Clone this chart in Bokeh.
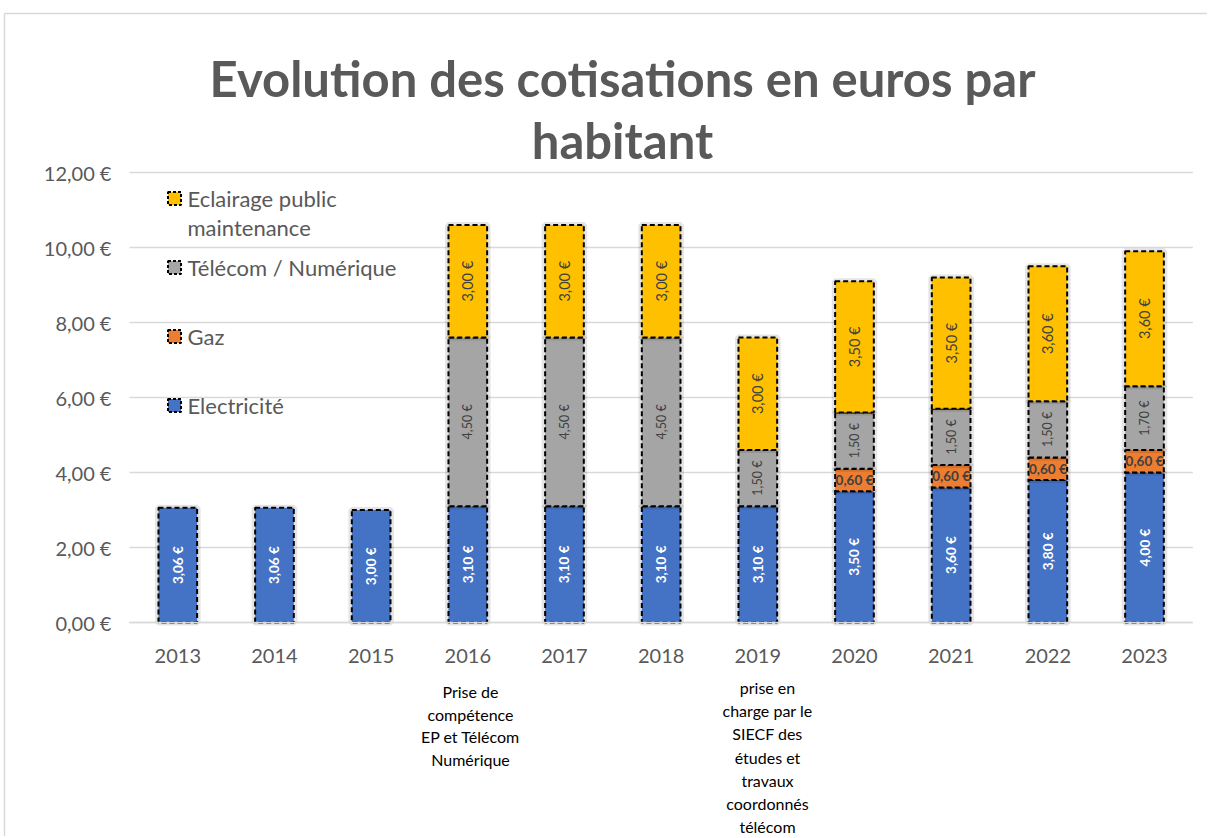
import math
from bokeh.plotting import figure
from bokeh.models import Range1d, FixedTicker, Label, ColumnDataSource
from bokeh.core.properties import value
from bokeh.embed import file_html
from bokeh.resources import INLINE

# ---------------- data ----------------
years = ["2013", "2014", "2015", "2016", "2017", "2018", "2019", "2020", "2021", "2022", "2023"]
series_names = ["Electricité", "Gaz", "Télécom / Numérique", "Eclairage public\nmaintenance"]
electricite = [3.06, 3.06, 3.00, 3.10, 3.10, 3.10, 3.10, 3.50, 3.60, 3.80, 4.00]
gaz = [0, 0, 0, 0, 0, 0, 0, 0.60, 0.60, 0.60, 0.60]
telecom = [0, 0, 0, 4.50, 4.50, 4.50, 1.50, 1.50, 1.50, 1.50, 1.70]
eclairage = [0, 0, 0, 3.00, 3.00, 3.00, 3.00, 3.50, 3.50, 3.60, 3.60]
series_colors = ["#4472C4", "#ED7D31", "#A5A5A5", "#FFC000"]
y_ticks = [0, 2, 4, 6, 8, 10, 12]
y_tick_labels = ["0,00 €", "2,00 €", "4,00 €", "6,00 €", "8,00 €", "10,00 €", "12,00 €"]
title_lines = ["Evolution des cotisations en euros par", "habitant"]
note_2016 = ["Prise de", "compétence", "EP et Télécom", "Numérique"]
note_2019 = ["prise en", "charge par le", "SIECF des", "études et", "travaux", "coordonnés", "télécom"]

FONT = "Lato"
GRAY_TXT = "#595959"
W, H = 1207, 836

# layout helpers: page pixel -> data coordinates (frame covers the whole canvas)
X0, XS = 177.3, 96.67      # pixel of first category centre, pixels per category
Y0, YS = 622.0, 37.5       # pixel of value 0, pixels per unit
def X(px):
    return (px - X0) / XS
def Y(py):
    return (Y0 - py) / YS

p = figure(width=W, height=H, output_backend="svg", toolbar_location=None,
           x_range=Range1d(X(0), X(W)), y_range=Range1d(Y(H), Y(0)),
           min_border_left=0, min_border_right=0, min_border_top=0, min_border_bottom=0)
p.outline_line_color = None
p.background_fill_color = "white"
p.border_fill_color = "white"
p.xgrid.grid_line_color = None
p.ygrid.grid_line_color = None

n = len(years)
# axes (fixed inside the canvas-wide frame)
p.xaxis.fixed_location = 0
p.xaxis.bounds = (-0.5, n - 0.5)
p.xaxis.ticker = FixedTicker(ticks=list(range(n)))
p.xaxis.major_label_overrides = {i: y for i, y in enumerate(years)}
p.yaxis.fixed_location = -0.5
p.yaxis.ticker = FixedTicker(ticks=y_ticks)
p.yaxis.major_label_overrides = {t: l for t, l in zip(y_ticks, y_tick_labels)}
for ax in (p.xaxis[0], p.yaxis[0]):
    ax.major_tick_line_color = None
    ax.minor_tick_line_color = None
    ax.major_label_text_font = FONT
    ax.major_label_text_font_size = "20px"
    ax.major_label_text_color = GRAY_TXT
p.yaxis.axis_line_color = None
p.yaxis.major_label_standoff = 12
p.xaxis.axis_line_color = "#D9D9D9"
p.xaxis.axis_line_width = 1.5
p.xaxis.major_label_standoff = 20

# horizontal gridlines over the plot area only
p.segment(x0=[-0.5] * len(y_ticks), x1=[n - 0.5] * len(y_ticks), y0=y_ticks, y1=y_ticks,
          line_color="#D9D9D9", line_width=1.5)

# outer chart border (top and left)
p.segment(x0=[X(4), X(4)], y0=[Y(13), Y(13)], x1=[X(W + 5), X(4)], y1=[Y(13), Y(H + 5)],
          line_color="#D9D9D9", line_width=1.5)

# stacked bars
stack = [electricite, gaz, telecom, eclairage]
bottoms = [0.0] * n
label_styles = [
    dict(color="white", weight="bold", size="13.5px", angle=math.pi / 2),
    dict(color="#404040", weight="bold", size="13.5px", angle=0),
    dict(color="#404040", weight="normal", size="12.5px", angle=math.pi / 2),
    dict(color="#404040", weight="normal", size="14.5px", angle=math.pi / 2),
]
for vals, col, st in zip(stack, series_colors, label_styles):
    xs, bs, ts, mids, labs = [], [], [], [], []
    for i, v in enumerate(vals):
        if v > 0:
            xs.append(i)
            bs.append(bottoms[i])
            ts.append(bottoms[i] + v)
            mids.append(bottoms[i] + v / 2)
            labs.append(f"{v:.2f}".replace(".", ",") + " €")
        bottoms[i] += v
    src = ColumnDataSource(dict(x=xs, bottom=bs, top=ts, mid=mids, lab=labs))
    # soft shadow
    p.vbar(x="x", bottom="bottom", top="top", width=0.41, source=src,
           fill_alpha=0.0, line_color="#000000", line_alpha=0.10, line_width=6)
    p.vbar(x="x", bottom="bottom", top="top", width=0.40, source=src,
           fill_color=col, line_color="black", line_width=2, line_dash="5 3")
    p.text(x="x", y="mid", text="lab", source=src, angle=st["angle"],
           text_align="center", text_baseline="middle",
           text_color=st["color"], text_font=value(FONT),
           text_font_style=st["weight"], text_font_size=st["size"])

# legend (drawn manually, top-down: Eclairage, Télécom, Gaz, Electricité)
leg_py = [405, 336, 267, 198]
leg_src = ColumnDataSource(dict(x=[X(174)] * 4, y=[Y(v) for v in leg_py], c=series_colors))
p.rect(x="x", y="y", width=13, height=13, width_units="screen", height_units="screen",
       source=leg_src, fill_color="c", line_color="black", line_width=2, line_dash="3 2")
for name, py in zip(series_names, leg_py):
    for k, line in enumerate(name.split("\n")):
        p.add_layout(Label(x=X(187), y=Y(py + k * 29), text=line, text_font=FONT,
                           text_font_size="22px", text_color=GRAY_TXT,
                           text_baseline="middle", text_align="left"))

# title
for line, py in zip(title_lines, [77, 139]):
    p.add_layout(Label(x=X(622), y=Y(py), text=line, text_font=FONT, text_font_style="bold",
                       text_font_size="49px", text_color=GRAY_TXT,
                       text_align="center", text_baseline="alphabetic"))

# notes under the axis
for k, line in enumerate(note_2016):
    p.add_layout(Label(x=X(470), y=Y(691 + k * 22.7), text=line, text_font=FONT,
                       text_font_size="16px", text_color="black",
                       text_align="center", text_baseline="middle"))
for k, line in enumerate(note_2019):
    p.add_layout(Label(x=X(767), y=Y(687 + k * 23.2), text=line, text_font=FONT,
                       text_font_size="16px", text_color="black",
                       text_align="center", text_baseline="middle"))

open("out.html", "w").write(file_html(p, INLINE))
